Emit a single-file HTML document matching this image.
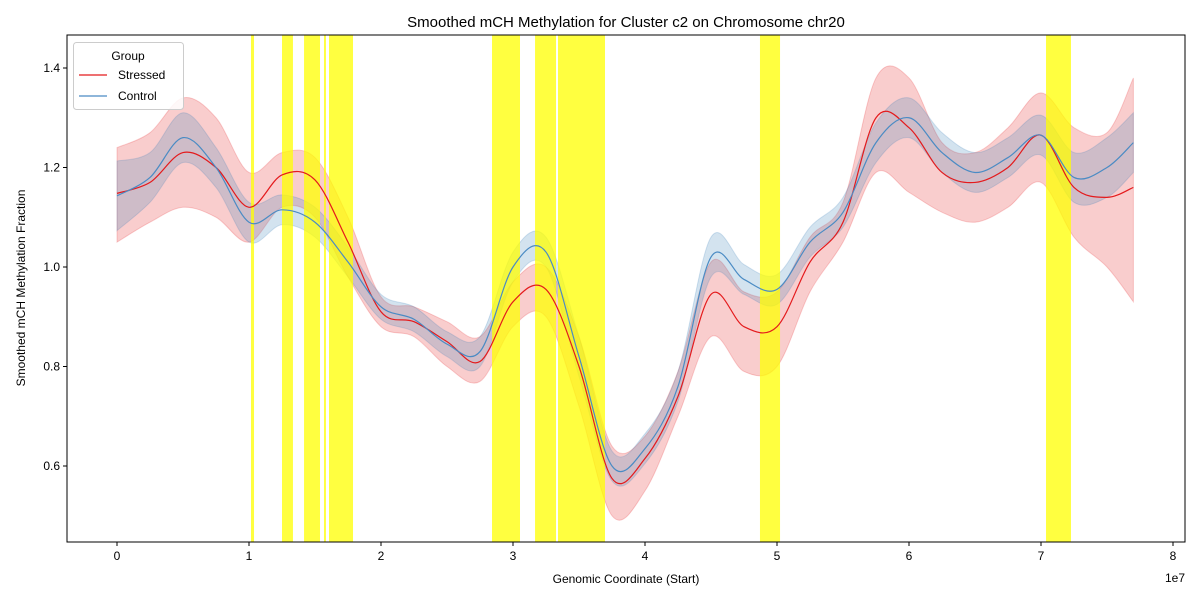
<!DOCTYPE html>
<html><head><meta charset="utf-8"><style>
body{margin:0;background:#fff;}
svg text{font-family:"Liberation Sans","DejaVu Sans",sans-serif;}
</style></head><body>
<svg id="chart" width="1200" height="600" xmlns="http://www.w3.org/2000/svg">
<rect width="1200" height="600" fill="#fff"/>
<g id="plot"></g>
<g id="axes"></g>
</svg>
<script>
const xs = [0,0.25,0.5,0.75,1.0,1.25,1.5,1.75,2.0,2.25,2.5,2.75,3.0,3.25,3.5,3.75,4.0,4.25,4.5,4.75,5.0,5.25,5.5,5.75,6.0,6.25,6.5,6.75,7.0,7.25,7.5,7.7];
const stressedMean = [1.148,1.17,1.23,1.20,1.12,1.185,1.175,1.05,0.91,0.89,0.85,0.81,0.93,0.955,0.80,0.575,0.615,0.74,0.945,0.88,0.88,1.01,1.09,1.30,1.28,1.19,1.17,1.20,1.265,1.16,1.14,1.16];
const stressedLow = [1.05,1.09,1.12,1.10,1.05,1.12,1.10,0.98,0.88,0.86,0.80,0.77,0.88,0.90,0.72,0.50,0.55,0.70,0.86,0.79,0.80,0.95,1.05,1.19,1.15,1.11,1.09,1.12,1.17,1.06,1.00,0.93];
const stressedHigh = [1.24,1.27,1.34,1.30,1.19,1.23,1.22,1.10,0.94,0.92,0.89,0.86,0.97,1.00,0.86,0.64,0.66,0.79,1.01,0.95,0.95,1.06,1.13,1.38,1.38,1.25,1.23,1.28,1.35,1.28,1.27,1.38];
const controlMean = [1.143,1.18,1.26,1.20,1.09,1.115,1.09,1.01,0.92,0.895,0.845,0.83,1.0,1.03,0.82,0.60,0.635,0.76,1.02,0.975,0.955,1.05,1.11,1.25,1.30,1.23,1.19,1.22,1.265,1.18,1.20,1.25];
const controlHalf = [0.07,0.05,0.05,0.04,0.04,0.03,0.03,0.03,0.025,0.025,0.025,0.03,0.03,0.03,0.04,0.03,0.03,0.03,0.04,0.03,0.03,0.03,0.03,0.04,0.04,0.04,0.04,0.04,0.04,0.05,0.06,0.06];
const bandStarts = [1.015,1.25,1.417,1.568,1.606,2.841,3.167,3.341,4.871,7.038];
const bandEnds = [1.038,1.333,1.538,1.583,1.788,3.053,3.326,3.697,5.023,7.227];
const xTicks = [0,1,2,3,4,5,6,7,8];
const yTicks = [0.6,0.8,1.0,1.2,1.4];

const L=67,R=1185,T=35,B=542;
const X=v=>117+v*132;
const Y=v=>267-(v-1)*497.5;
const NS="http://www.w3.org/2000/svg";
const plot=document.getElementById('plot'), axes=document.getElementById('axes');
function mk(tag,attrs,parent){const e=document.createElementNS(NS,tag);for(const k in attrs)e.setAttribute(k,attrs[k]);parent.appendChild(e);return e;}
function pts(arr){return xs.map((x,i)=>[X(x),Y(arr[i])]);}
function cr(p){let d='M'+p[0][0]+','+p[0][1];for(let i=0;i<p.length-1;i++){const p0=p[i-1]||p[i],p1=p[i],p2=p[i+1],p3=p[i+2]||p2;
d+=' C'+(p1[0]+(p2[0]-p0[0])/6)+','+(p1[1]+(p2[1]-p0[1])/6)+' '+(p2[0]-(p3[0]-p1[0])/6)+','+(p2[1]-(p3[1]-p1[1])/6)+' '+p2[0]+','+p2[1];}return d;}
function area(lo,hi){const a=pts(hi),b=pts(lo).reverse();return cr(a)+' L'+cr(b).slice(1)+' Z';}

const clip=mk('clipPath',{id:'c'},plot);mk('rect',{x:L,y:T,width:R-L,height:B-T},clip);
const g=mk('g',{'clip-path':'url(#c)'},plot);
let e=mk('path',{d:area(stressedLow,stressedHigh),fill:'#e41a1c','fill-opacity':0.22,stroke:'#e41a1c','stroke-opacity':0.2},g);

const cLo=controlMean.map((v,i)=>v-controlHalf[i]),cHi=controlMean.map((v,i)=>v+controlHalf[i]);
e=mk('path',{d:area(cLo,cHi),fill:'#377eb8','fill-opacity':0.22,stroke:'#377eb8','stroke-opacity':0.2},g);

bandStarts.forEach((s,i)=>{const r=mk('rect',{x:X(s),y:T,width:X(bandEnds[i])-X(s),height:B-T,fill:'#ffff00','fill-opacity':0.75},g);

});
e=mk('path',{d:cr(pts(stressedMean)),fill:'none',stroke:'#e41a1c','stroke-width':1.2},g);

e=mk('path',{d:cr(pts(controlMean)),fill:'none',stroke:'#4a8bc4','stroke-width':1.2},g);


mk('rect',{x:L,y:T,width:R-L,height:B-T,fill:'none',stroke:'#000','stroke-width':1},axes);
xTicks.forEach(t=>{mk('line',{x1:X(t),x2:X(t),y1:B,y2:B+4,stroke:'#000'},axes);
const tx=mk('text',{x:X(t),y:B+18,'text-anchor':'middle','font-size':12},axes);tx.textContent=t;
});
yTicks.forEach(t=>{mk('line',{x1:L-4,x2:L,y1:Y(t),y2:Y(t),stroke:'#000'},axes);
const tx=mk('text',{x:L-7,y:Y(t)+4,'text-anchor':'end','font-size':12},axes);tx.textContent=t.toFixed(1);
});
</script>
<svg style="position:absolute;left:0;top:0" width="1200" height="600" xmlns="http://www.w3.org/2000/svg">
<text x="626" y="27" text-anchor="middle" font-size="15">Smoothed mCH Methylation for Cluster c2 on Chromosome chr20</text>
<text x="626" y="583" text-anchor="middle" font-size="12">Genomic Coordinate (Start)</text>
<text x="1185" y="582" text-anchor="end" font-size="12">1e7</text>
<text transform="translate(25,288) rotate(-90)" text-anchor="middle" font-size="12">Smoothed mCH Methylation Fraction</text>
<g>
<rect x="73.5" y="42.5" width="110" height="67" rx="3" fill="#fff" fill-opacity="0.85" stroke="#ccc"/>
<text x="128" y="60" text-anchor="middle" font-size="12">Group</text>
<line x1="79" x2="107" y1="75" y2="75" stroke="#e41a1c" stroke-width="1.2"/>
<text x="118" y="79" font-size="12">Stressed</text>
<line x1="79" x2="107" y1="96" y2="96" stroke="#4a8bc4" stroke-width="1.2"/>
<text x="118" y="100" font-size="12">Control</text>
</g>
</svg>
</body></html>
